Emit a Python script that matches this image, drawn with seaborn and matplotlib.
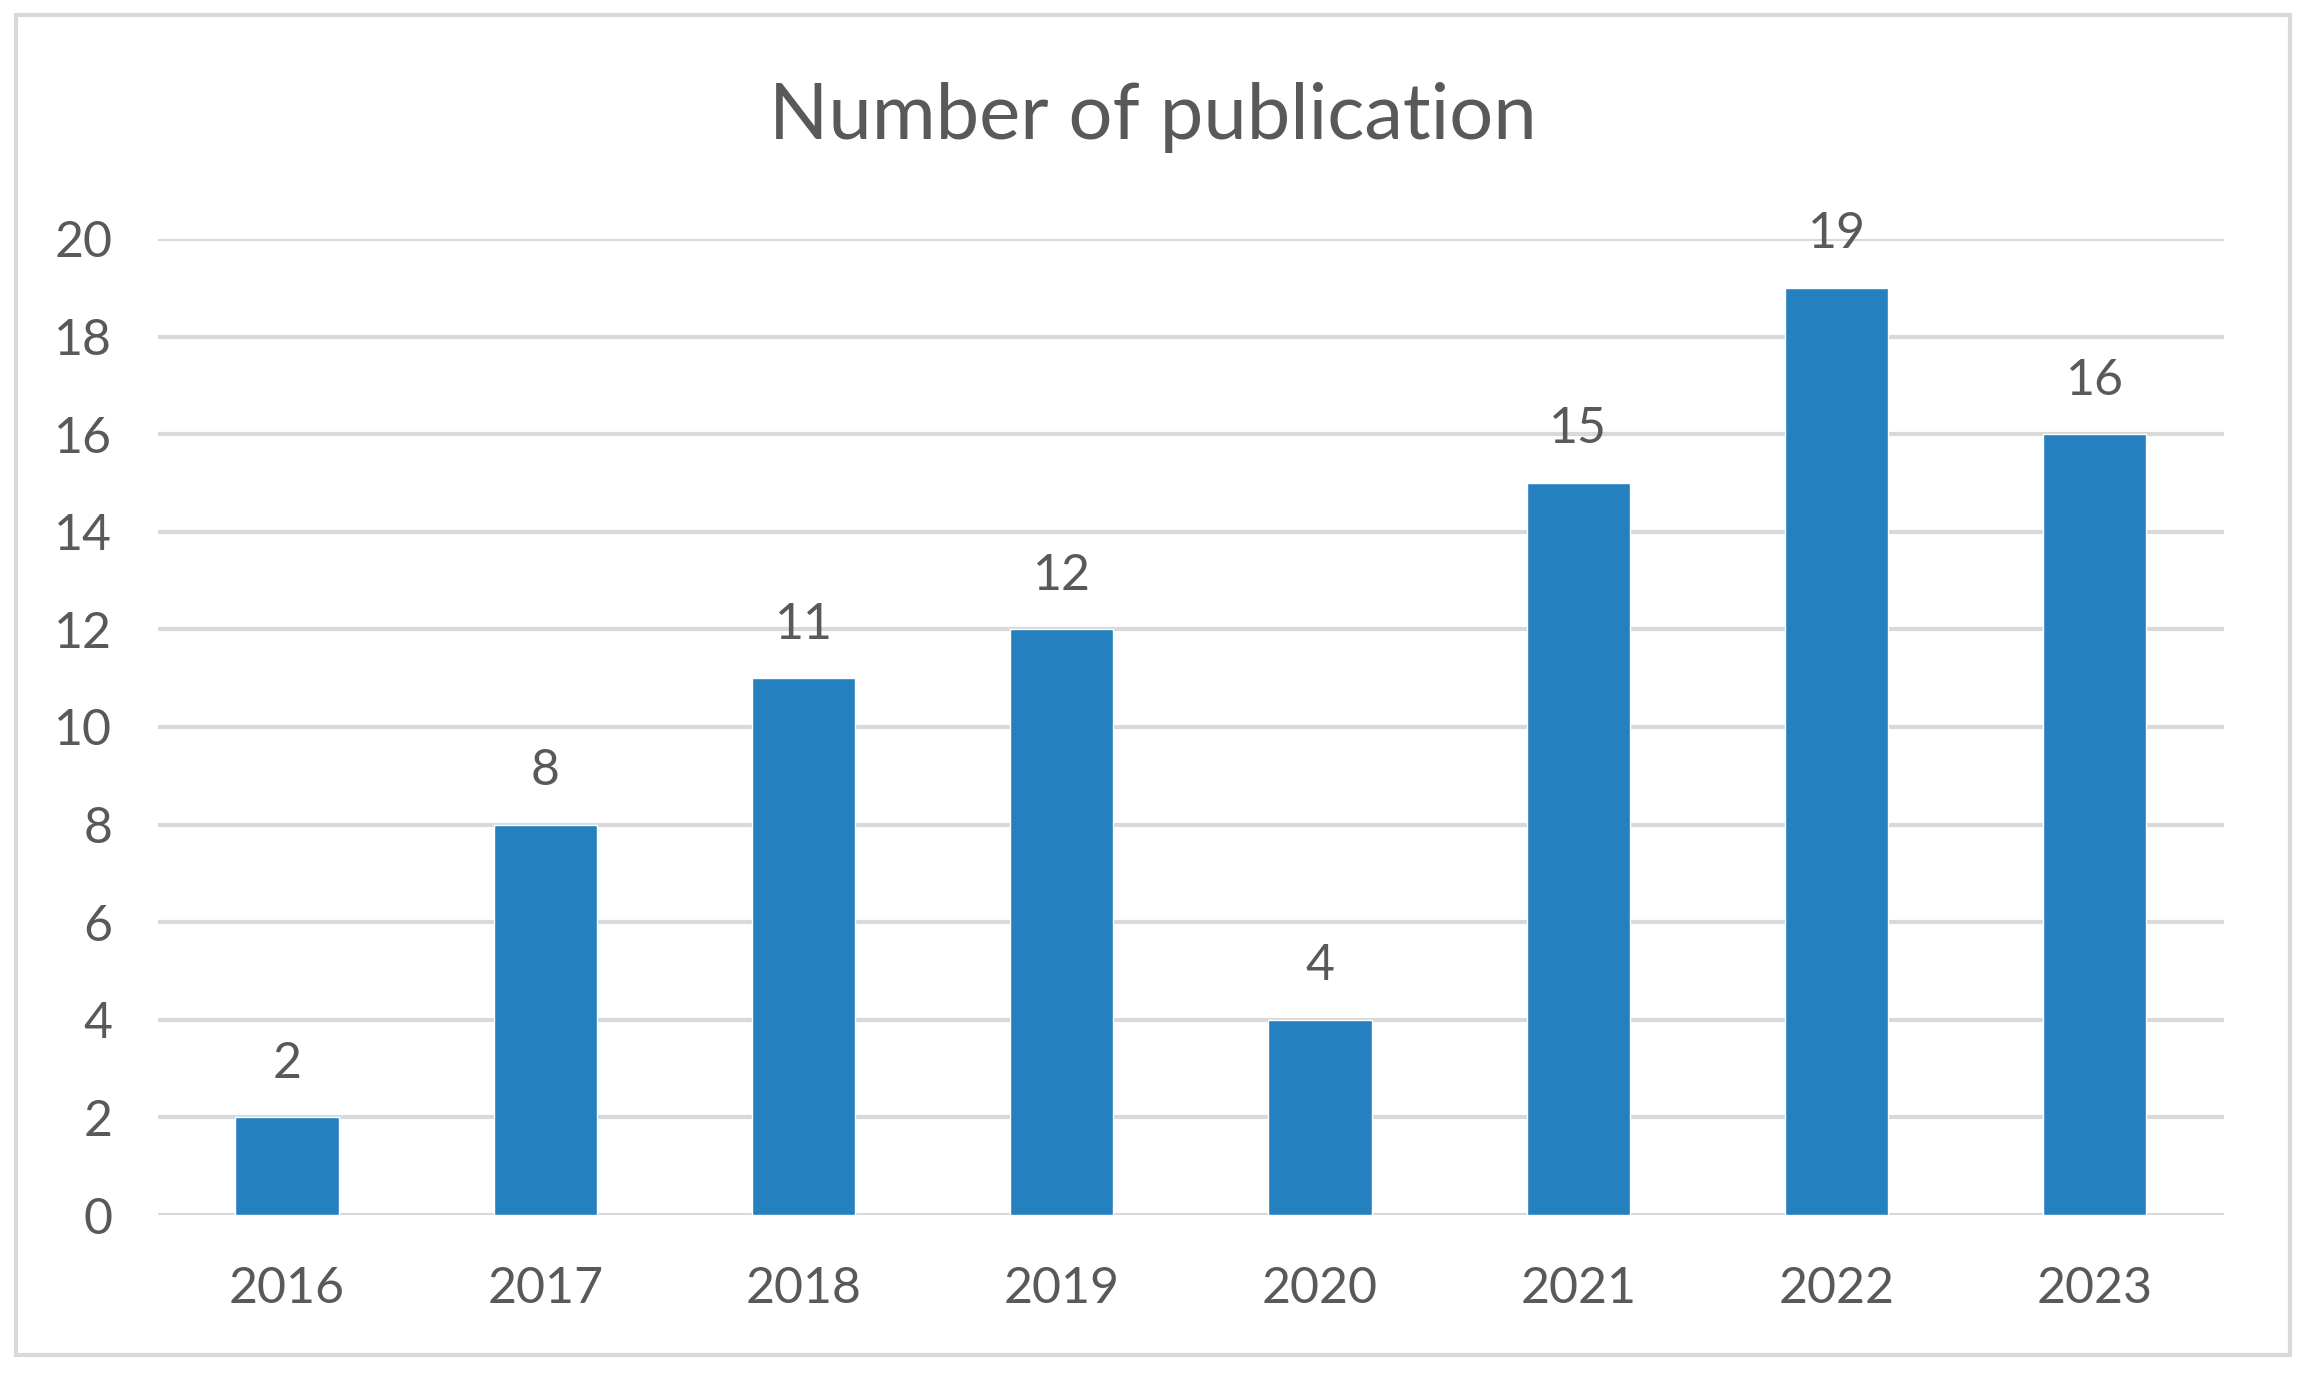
import matplotlib
matplotlib.use("Agg")
import numpy as np
import pandas as pd
import matplotlib.pyplot as plt
import seaborn as sns
from matplotlib.patches import Rectangle

years = ["2016", "2017", "2018", "2019", "2020", "2021", "2022", "2023"]
counts = [2, 8, 11, 12, 4, 15, 19, 16]
y_ticks = [0, 2, 4, 6, 8, 10, 12, 14, 16, 18, 20]

sns.set_theme(style="white")
plt.rcParams["font.family"] = ["Lato", "DejaVu Sans"]

text_col = "#595959"
grid_col = "#D9D9D9"
bar_col = "#2480BF"

df = pd.DataFrame({"year": years, "count": counts})

fig = plt.figure(figsize=(23.06, 13.81), dpi=100)
ax = fig.add_axes([0.0685, 0.1202, 0.8959, 0.7068])

sns.barplot(data=df, x="year", y="count", color=bar_col, width=0.4,
            saturation=1, ax=ax, zorder=3)

ax.set_ylim(0, 20)
ax.set_xlim(-0.5, len(years) - 0.5)
ax.set_yticks(y_ticks)
ax.yaxis.grid(True, color=grid_col, linewidth=3, zorder=0)
ax.set_axisbelow(True)
for s in ax.spines.values():
    s.set_visible(False)
ax.set_xlabel("")
ax.set_ylabel("")
ax.tick_params(axis="both", length=0, labelsize=36, colors=text_col)
ax.tick_params(axis="x", pad=37)
ax.tick_params(axis="y", pad=33)

# value labels
for i, v in enumerate(counts):
    ax.annotate(str(v), (i, v), xytext=(0, 22), textcoords="offset points",
                ha="center", va="bottom", fontsize=36, color=text_col,
                annotation_clip=False)

fig.text(0.5, 0.915, "Number of publication", ha="center", va="center",
         fontsize=56, color=text_col)

# outer chart border
fig.patches.append(Rectangle((16 / 2306, 1 - 1355 / 1381), 2274 / 2306, 1340 / 1381,
                             transform=fig.transFigure, fill=False,
                             edgecolor=grid_col, linewidth=3))

fig.savefig("out.png", dpi=100)
